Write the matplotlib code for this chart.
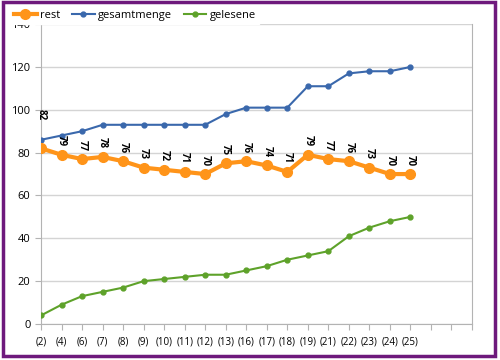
import matplotlib.pyplot as plt
from matplotlib.patches import Rectangle

labels = ["(2)", "(4)", "(6)", "(7)", "(8)", "(9)", "(10)", "(11)", "(12)", "(13)",
          "(16)", "(17)", "(18)", "(19)", "(21)", "(22)", "(23)", "(24)", "(25)"]
rest = [82, 79, 77, 78, 76, 73, 72, 71, 70, 75, 76, 74, 71, 79, 77, 76, 73, 70, 70]
gesamtmenge = [86, 88, 90, 93, 93, 93, 93, 93, 93, 98, 101, 101, 101, 111, 111, 117, 118, 118, 120]
gelesene = [4, 9, 13, 15, 17, 20, 21, 22, 23, 23, 25, 27, 30, 32, 34, 41, 45, 48, 50]
n_slots = 22

plt.rcParams['font.family'] = ['Open Sans', 'DejaVu Sans']

fig = plt.figure(figsize=(5, 3.6), dpi=100)
ax = fig.add_axes([0.082, 0.1, 0.862, 0.833])

x = list(range(len(labels)))
ax.plot(x, gesamtmenge, color="#3a68ac", lw=1.5, marker='o', ms=3.5, label="gesamtmenge", zorder=3)
ax.plot(x, gelesene, color="#5ea22a", lw=1.5, marker='o', ms=3.5, label="gelesene", zorder=3)
ax.plot(x, rest, color="#ff9419", lw=3, marker='o', ms=7, label="rest", zorder=4)

for xi, v in zip(x, rest):
    # first label is pushed up above the blue line, like in the original
    off = 20 if xi == 0 else 6
    ax.annotate(str(v), (xi, v), xytext=(0, off), textcoords="offset points",
                rotation=270, ha="center", va="bottom", fontsize=7, fontweight="bold")

ax.set_xlim(0, n_slots - 1)
ax.set_ylim(0, 140)
ax.set_xticks(range(n_slots))
ax.set_xticklabels(labels + [""] * (n_slots - len(labels)), fontsize=7)
ax.set_yticks(range(0, 141, 20))
ax.tick_params(axis='y', labelsize=8, length=4, color="#b3b3b3")
ax.tick_params(axis='x', length=4, color="#b3b3b3", pad=5)
ax.grid(axis='y', color="#d4d4d4", lw=1)
ax.set_axisbelow(True)
for s in ["left", "bottom", "right"]:
    ax.spines[s].set_color("#b3b3b3")
ax.spines["top"].set_visible(False)

h, l = ax.get_legend_handles_labels()
order = [2, 0, 1]
fig.legend([h[i] for i in order], [l[i] for i in order], loc="upper left",
           bbox_to_anchor=(0.012, 0.995), ncol=3, frameon=True, edgecolor="white",
           fancybox=False, fontsize=8, handlelength=2.0, columnspacing=1.1,
           handletextpad=0.3, borderpad=0.25, framealpha=1)

fig.patches.append(Rectangle((0.006, 0.012), 0.984, 0.982, transform=fig.transFigure,
                             fill=False, edgecolor="#6e1a7c", lw=2.5))

fig.savefig("out.png")
